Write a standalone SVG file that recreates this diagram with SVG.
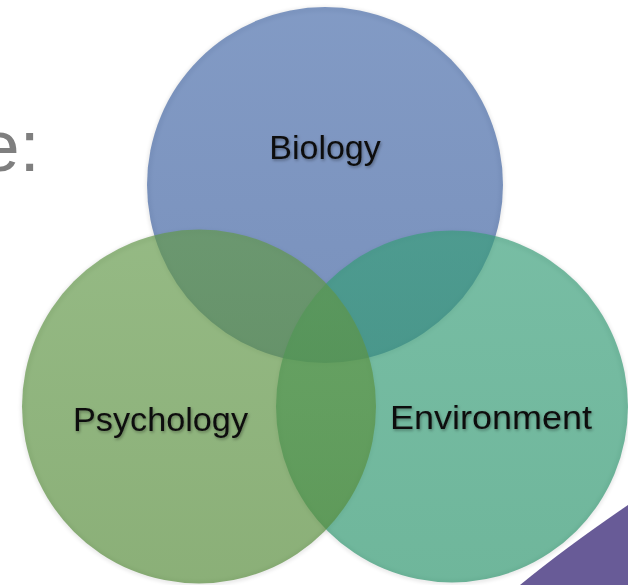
<svg xmlns="http://www.w3.org/2000/svg" width="628" height="585" viewBox="0 0 628 585">
  <defs>
    <style>
      .label { font-family: "Liberation Sans", Arial, sans-serif; font-size: 34px; fill: #111111; text-anchor: middle; filter: url(#textShadow); }
      .title { font-family: "Liberation Sans", Arial, sans-serif; font-size: 73px; fill: #7f7f7f; }
      .disc { opacity: 0.68; }
      .halo { fill: none; stroke: #000000; stroke-width: 3; opacity: 0.14; filter: url(#soft); }
    </style>
    <filter id="textShadow" x="-10%" y="-30%" width="120%" height="160%">
      <feDropShadow dx="1" dy="1.5" stdDeviation="1.5" flood-color="#000000" flood-opacity="0.35"/>
    </filter>
    <filter id="soft" x="-10%" y="-10%" width="120%" height="120%">
      <feGaussianBlur stdDeviation="2"/>
    </filter>
    <linearGradient id="gBio" x1="0" y1="0" x2="0" y2="1">
      <stop offset="0" stop-color="#476ba9"/>
      <stop offset="1" stop-color="#3a5d9d"/>
    </linearGradient>
    <linearGradient id="gEnv" x1="0" y1="0" x2="0" y2="1">
      <stop offset="0" stop-color="#389e79"/>
      <stop offset="1" stop-color="#2b946c"/>
    </linearGradient>
    <linearGradient id="gPsy" x1="0" y1="0" x2="0" y2="1">
      <stop offset="0" stop-color="#63994a"/>
      <stop offset="1" stop-color="#548a38"/>
    </linearGradient>
  </defs>

  <rect width="628" height="585" fill="#ffffff"/>

  <!-- partial heading at the left edge -->
  <text class="title" x="-21" y="171">e:</text>

  <!-- purple corner shape -->
  <path d="M 628 505 Q 565 548 520 585 L 628 585 Z" fill="#685b97"/>

  <!-- soft edge shadows around the three discs -->
  <g id="shadows">
    <circle class="halo" cx="325" cy="186" r="177"/>
    <circle class="halo" cx="452" cy="407.5" r="175"/>
    <circle class="halo" cx="199" cy="407.5" r="176"/>
  </g>

  <g id="node-biology">
    <circle class="disc" cx="325" cy="185" r="178" fill="url(#gBio)"/>
    <text class="label" x="325" y="159">Biology</text>
  </g>

  <g id="node-environment">
    <circle class="disc" cx="452" cy="406.5" r="176" fill="url(#gEnv)"/>
    <text class="label" x="491" y="429" textLength="202" lengthAdjust="spacingAndGlyphs">Environment</text>
  </g>

  <g id="node-psychology">
    <circle class="disc" cx="199" cy="406.5" r="177" fill="url(#gPsy)"/>
    <text class="label" x="160.5" y="431" textLength="175" lengthAdjust="spacingAndGlyphs">Psychology</text>
  </g>
</svg>
